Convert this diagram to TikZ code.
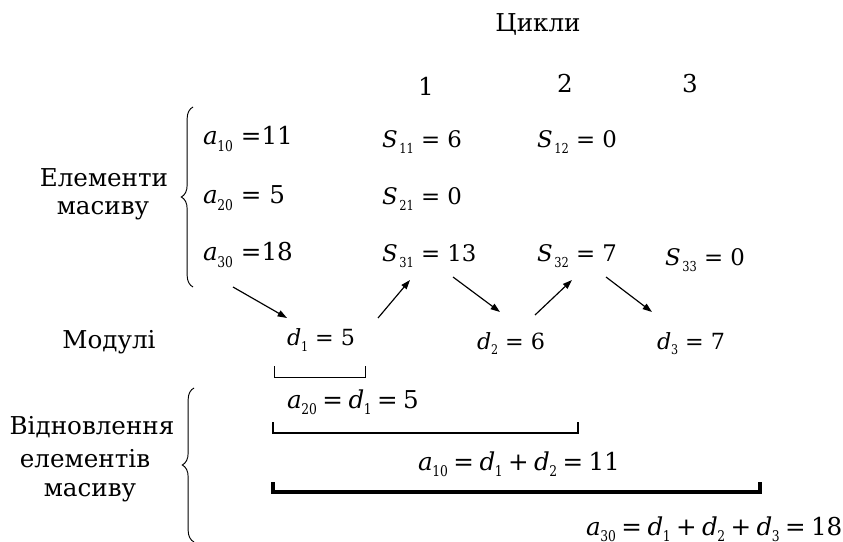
\documentclass[tikz,border=0pt]{standalone}
\usepackage{fontspec}
\setmainfont{DejaVu Serif}
\usepackage{graphicx}
\usetikzlibrary{arrows.meta,decorations.pathreplacing,calc}
\newcommand{\sv}[2]{\textit{#1}\kern-0.02em\raisebox{-0.25em}{\scalebox{0.5}[0.6]{#2}}}
\newcommand{\svS}[2]{\textit{#1}\kern0.06em\raisebox{-0.25em}{\scalebox{0.5}[0.6]{#2}}}
\newcommand{\eqop}{\hspace{0.22em}=\hspace{0.22em}}
\newcommand{\plop}{\hspace{0.22em}+\hspace{0.22em}}
\begin{document}
\begin{tikzpicture}[x=0.03cm,y=-0.03cm,
  lbl/.style={font=\fontsize{21}{26}\selectfont, inner sep=0pt, anchor=base},
  big/.style={font=\fontsize{21}{26}\selectfont, inner sep=0pt, anchor=base west},
  mid/.style={font=\fontsize{19.5}{24}\selectfont, inner sep=0pt, anchor=base west},
  dst/.style={font=\fontsize{19}{24}\selectfont, inner sep=0pt, anchor=base west},
  sml/.style={font=\fontsize{21}{26}\selectfont, inner sep=0pt, anchor=base west},
  arr/.style={-{Triangle[length=8pt,width=5.5pt]}, line width=1pt},
  brc/.style={decorate, decoration={brace, amplitude=10pt}, line width=0.8pt},
  brk/.style={line width=#1}]
\useasboundingbox (0,0) rectangle (843,542);
% header
\node[lbl] (cyc) at (538,32) {Цикли};
\node[lbl] (c1) at (426,96) {1};
\node[lbl] (c2) at (565,93) {2};
\node[lbl] (c3) at (690,93) {3};
% left labels
\node[lbl] (el1) at (104,187) {Елементи};
\node[lbl] (el2) at (103,215) {масиву};
\node[lbl] (mod) at (109,348) {Модулі};
\node[lbl] (v1) at (92,434) {Відновлення};
\node[lbl] (v2) at (85,467) {елементів};
\node[lbl] (v3) at (90,496) {масиву};
% braces
\draw[brc] (193,287) -- (193,107);
\draw[brc] (194,542) -- (194,388);
% array elements
\node[big] (a10) at (203,145) {\sv{a}{10} =11};
\node[big] (a20) at (203,204) {\sv{a}{20} = 5};
\node[big] (a30) at (203,261) {\sv{a}{30} =18};
% S values
\node[mid] (s11) at (382,148) {\svS{S}{11} = 6};
\node[mid] (s12) at (537,148) {\svS{S}{12} = 0};
\node[mid] (s21) at (382,205) {\svS{S}{21} = 0};
\node[mid] (s31) at (382,262) {\svS{S}{31} = 13};
\node[mid] (s32) at (537,262) {\svS{S}{32} = 7};
\node[mid] (s33) at (665,266) {\svS{S}{33} = 0};
% modules
\node[dst] (d1) at (287,346) {\sv{d}{1} = 5};
\node[dst] (d2) at (477,349) {\sv{d}{2} = 6};
\node[dst] (d3) at (657,349) {\sv{d}{3} = 7};
% arrows
\draw[arr] ($(a30.base west)+(30,26)$) -- ($(d1.base west)+(0,-28)$);
\draw[arr] ($(d1.base west)+(91,-28)$) -- ($(s31.base west)+(28,18)$);
\draw[arr] ($(s31.base west)+(71,15)$) -- ($(d2.base west)+(23,-37)$);
\draw[arr] ($(d2.base west)+(58,-34)$) -- ($(s32.base west)+(35,18)$);
\draw[arr] ($(s32.base west)+(69,15)$) -- ($(d3.base west)+(-5,-37)$);
% brackets
\draw[brk=0.7pt] (274,366) -- (274,377) -- (365,377) -- (365,366);
\draw[brk=1.3pt] (273,422) -- (273,433) -- (578,433) -- (578,422);
\draw[brk=2.6pt] (273,482) -- (273,492) -- (760,492) -- (760,482);
% restored
\node[sml] (r1) at (287,408) {\sv{a}{20}\eqop\sv{d}{1}\eqop 5};
\node[sml] (r2) at (418,470) {\sv{a}{10}\eqop\sv{d}{1}\plop\sv{d}{2}\eqop 11};
\node[sml] (r3) at (586,535) {\sv{a}{30}\eqop\sv{d}{1}\plop\sv{d}{2}\plop\sv{d}{3}\eqop 18};
\end{tikzpicture}
\end{document}
